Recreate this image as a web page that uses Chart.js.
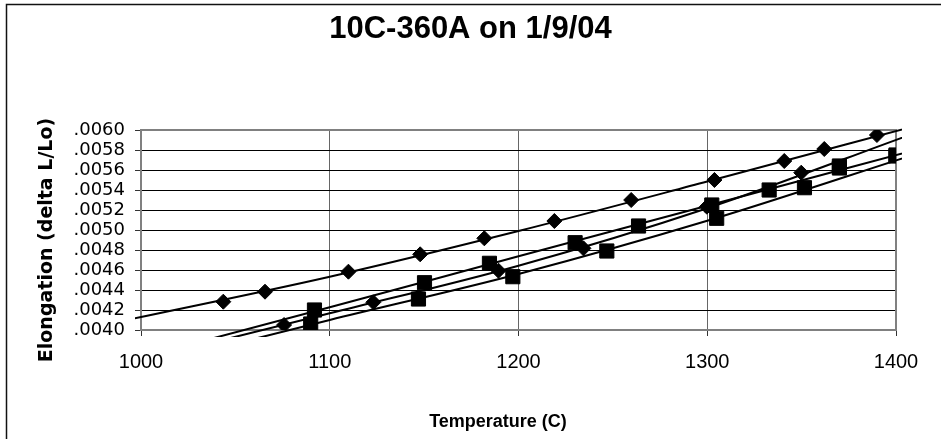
<!DOCTYPE html>
<html>
<head>
<meta charset="utf-8">
<title>10C-360A on 1/9/04</title>
<script src="https://cdn.jsdelivr.net/npm/chart.js@4.4.1/dist/chart.umd.min.js"></script>
<style>
  html, body { margin: 0; padding: 0; background: #fff; }
  #wrap { width: 941px; height: 439px; }
</style>
</head>
<body>
<div id="wrap"><canvas id="chartElongation" width="941" height="439"></canvas></div>
<script>
// ===============================
// DATA
// ===============================
const heatDiamondTemps = [1043.6, 1065.7, 1109.9, 1147.9, 1181.9, 1219, 1259.7, 1303.8, 1340.8, 1362, 1389.9];
const heatDiamondElong = [.004283, .004383, .004583, .004757, .004917, .00509, .0053, .0055, .00569, .00581, .00595];

const coolDiamondTemps = [1075.8, 1123.1, 1189.4, 1234.4, 1299.8, 1349.8];
const coolDiamondElong = [.00405, .004277, .004593, .004817, .005233, .005573];

const upperSquareTemps = [1091.9, 1150.2, 1184.6, 1230, 1263.6, 1302.4, 1332.8, 1370, 1400];
const upperSquareElong = [.0042, .004473, .004667, .004873, .00504, .00525, .0054, .00564, .00575];

const lowerSquareTemps = [1089.9, 1147, 1197, 1246.8, 1305, 1351.5, 1370, 1400];
const lowerSquareElong = [.00406, .00431, .004533, .00479, .005117, .005423, .00562, .00574];

// trend curves, sampled at these temperatures
const trendTemps      = [990, 1100, 1200, 1300, 1410];
const trendHeatDia    = [.00409, .004533, .00499, .005485, .00604];
const trendUpperSq    = [.003677, .004227, .004737, .005243, .0058];
const trendCoolDia    = [.00365, .004167, .004643, .005218, .00597];
const trendLowerSq    = [.00358, .0041, .00456, .005092, .005757];

const xTickMin = 1000, xTickMax = 1400, xTickStep = 100;
const yTickMin = .0040, yTickMax = .0060, yTickStep = .0002;

const xAxisTitle = "Temperature (C)";
const yAxisTitle = "Elongation (delta L/Lo)";

// ===============================
// HELPERS
// ===============================
function toPoints(xs, ys) {
  return xs.map((x, i) => ({ x: x, y: ys[i] }));
}

function markerSet(xs, ys, style, radius) {
  return {
    data: toPoints(xs, ys),
    showLine: false,
    pointStyle: style,
    pointRadius: radius,
    pointHoverRadius: radius,
    pointBackgroundColor: "#000",
    pointBorderColor: "#000",
    pointBorderWidth: 1
  };
}

function trendSet(ys) {
  return {
    data: toPoints(trendTemps, ys),
    showLine: true,
    pointRadius: 0,
    borderColor: "#000",
    borderWidth: 2,
    cubicInterpolationMode: "monotone",
    clip: { left: 6, right: 6, top: 6, bottom: 7 }
  };
}

// white page, outer frame, plot box and the two axis titles
const chartFrame = {
  id: "chartFrame",
  beforeDraw(chart) {
    const ctx = chart.ctx;
    ctx.save();
    ctx.fillStyle = "#fff";
    ctx.fillRect(0, 0, chart.width, chart.height);
    ctx.strokeStyle = "#111";
    ctx.lineWidth = 1.5;
    ctx.strokeRect(6.5, 4.5, chart.width + 20, chart.height + 20);
    ctx.restore();
  },
  beforeDatasetsDraw(chart) {
    const a = chart.chartArea;
    const ctx = chart.ctx;
    ctx.save();
    ctx.strokeStyle = "#808080";
    ctx.lineWidth = 2;
    ctx.strokeRect(a.left, a.top, a.right - a.left, a.bottom - a.top);
    ctx.restore();
  },
  afterDraw(chart) {
    const ctx = chart.ctx;
    ctx.save();
    ctx.fillStyle = "#000";
    ctx.textAlign = "center";
    ctx.textBaseline = "middle";

    // titles sit centred on the plot block incl. its tick labels
    ctx.font = 'bold 18px "Liberation Sans", Arial, sans-serif';
    ctx.fillText(xAxisTitle, 498, 422);

    ctx.translate(47, 240);
    ctx.rotate(-Math.PI / 2);
    ctx.font = 'bold 19px "DejaVu Sans"';
    ctx.fillText(yAxisTitle, 0, 0);
    ctx.restore();
  }
};

// ===============================
// CHART
// ===============================
Chart.defaults.color = "#000";

const chartElongation = new Chart(document.getElementById("chartElongation"), {
  type: "scatter",
  data: {
    datasets: [
      markerSet(heatDiamondTemps, heatDiamondElong, "rectRot", 7.5),
      markerSet(coolDiamondTemps, coolDiamondElong, "rectRot", 7.5),
      markerSet(upperSquareTemps, upperSquareElong, "rect", 10),
      markerSet(lowerSquareTemps, lowerSquareElong, "rect", 10),
      trendSet(trendHeatDia),
      trendSet(trendUpperSq),
      trendSet(trendCoolDia),
      trendSet(trendLowerSq)
    ]
  },
  options: {
    responsive: false,
    animation: false,
    devicePixelRatio: 1,
    layout: { padding: 0 },
    plugins: {
      legend: { display: false },
      tooltip: { enabled: false },
      title: {
        display: true,
        text: "10C-360A on 1/9/04",
        color: "#000",
        font: { family: '"Liberation Sans", Arial, sans-serif', size: 31, weight: "bold" },
        padding: { top: 11, bottom: 130 - 11 - 37.2 }
      }
    },
    scales: {
      x: {
        type: "linear",
        min: xTickMin,
        max: xTickMax,
        afterFit: s => { s.height = 109; },
        ticks: {
          stepSize: xTickStep,
          padding: 14,
          font: { family: '"Liberation Sans", Arial, sans-serif', size: 20 },
          callback: v => String(v)
        },
        grid: { color: "#666", lineWidth: 1, tickLength: 6, tickColor: "#333" },
        border: { color: "#808080", width: 2 }
      },
      y: {
        type: "linear",
        min: yTickMin,
        max: yTickMax,
        afterFit: s => { s.width = 141; },
        ticks: {
          stepSize: yTickStep,
          autoSkip: false,
          padding: 10,
          font: { family: '"DejaVu Sans", sans-serif', size: 18 },
          callback: v => v.toFixed(4).replace(/^0/, "")
        },
        grid: { color: "#000", lineWidth: 1, tickLength: 6, tickColor: "#333" },
        border: { color: "#808080", width: 2 }
      },
      // empty strip on the right, keeps the plot clear of the edge
      yRight: {
        type: "linear",
        position: "right",
        min: yTickMin,
        max: yTickMax,
        afterFit: s => { s.width = 45; },
        ticks: { display: false },
        grid: { display: false },
        border: { display: false }
      }
    }
  },
  plugins: [chartFrame]
});
</script>
</body>
</html>
